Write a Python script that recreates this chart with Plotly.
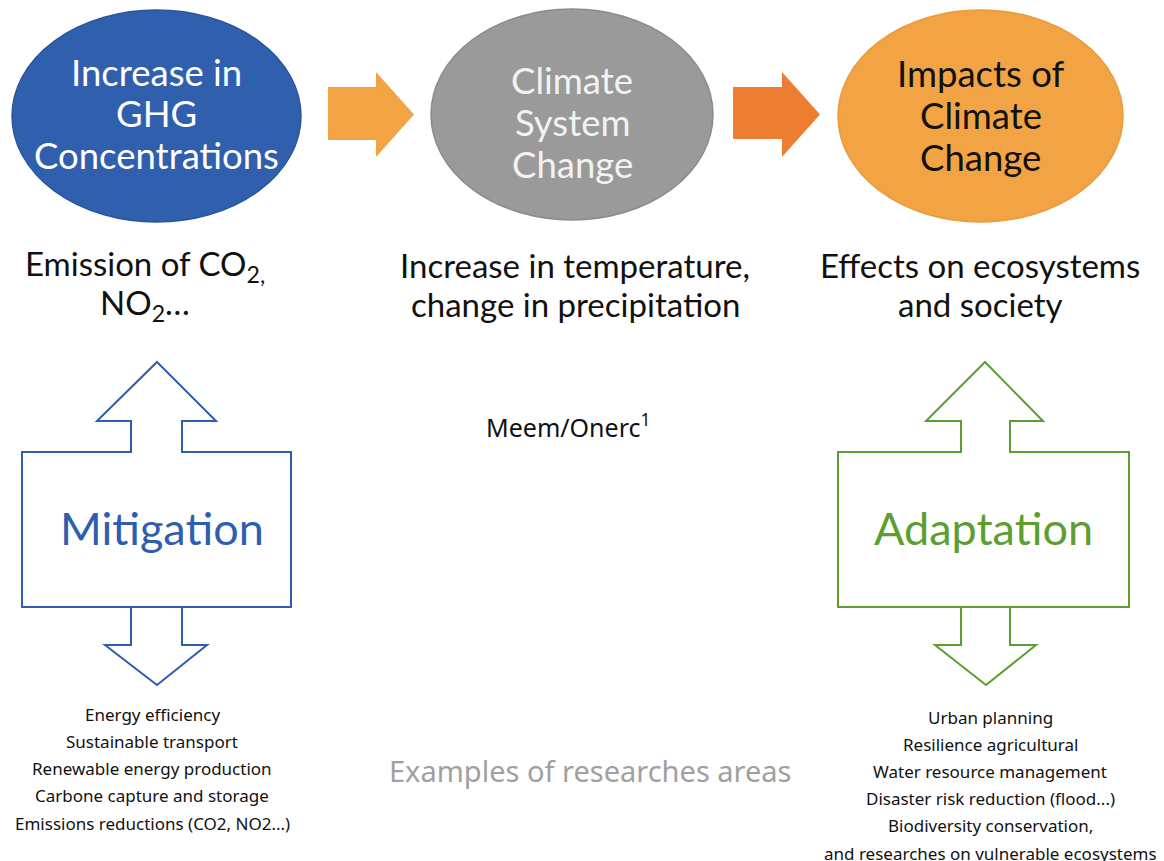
import plotly.graph_objects as go

W, H = 1164, 861
PAGE_OFF = 8  # browser body margin

# ---- text content ----
stage_titles = [
    ["Increase in", "GHG", "Concentrations"],
    ["Climate", "System", "Change"],
    ["Impacts of", "Climate", "Change"],
]
stage_fill = ["#3060AD", "#9A9A9A", "#F2A444"]
stage_line = ["#2A56A0", "#8C8C8C", "#E89A3C"]
stage_text_color = ["#FFFFFF", "#F2F2F2", "#111111"]

stage_sub = [
    ["Emission of CO<sub>2,</sub>", "NO<sub>2</sub>\u2026"],
    ["Increase in temperature,", "change in precipitation"],
    ["Effects on ecosystems", "and society"],
]

flow_arrow_colors = ["#F2A444", "#ED7D31"]

response_labels = ["Mitigation", "Adaptation"]
response_colors = ["#2F5DB0", "#5C9E2F"]

mitigation_areas = [
    "Energy efficiency",
    "Sustainable transport",
    "Renewable energy production",
    "Carbone capture and storage",
    "Emissions reductions (CO2, NO2...)",
]
adaptation_areas = [
    "Urban planning",
    "Resilience agricultural",
    "Water resource management",
    "Disaster risk reduction (flood...)",
    "Biodiversity conservation,",
    "and researches on vulnerable ecosystems",
]
source_text = "Meem/Onerc<sup>1</sup>"
caption_text = "Examples of researches areas"

# ---- layout geometry (pixel space) ----
ellipses = [(12, 10, 301, 222), (431, 9, 713, 220), (838, 10, 1123, 222)]
title_line_y = [[72, 113, 155], [80, 122, 164], [73, 115, 157]]
sub_x = [145, 575, 980]
sub_y = [265, 304]

flow_arrows = [  # x0, xhead, xtip, body_top, body_bot, head_top, head_bot
    (328, 376, 414, 87, 140, 72, 157),
    (733, 782, 820, 87, 139, 72, 157),
]

blocks = [
    dict(cx=157, bl=22, br=291, sl=131, sr=182, hl=97, hr=216, dl=105, dr=207, dcx=157, tx=162),
    dict(cx=985, bl=838, br=1129, sl=961, sr=1010, hl=926, hr=1043, dl=935, dr=1036, dcx=986, tx=983),
]
y_tip, y_head, y_boxtop, y_boxbot, y_dshaft, y_dtip = 362, 421, 452, 607, 645, 685

fig = go.Figure()
shapes = []
annotations = []

for i, (x0, y0, x1, y1) in enumerate(ellipses):
    shapes.append(dict(type="circle", xref="x", yref="y", x0=x0, x1=x1, y0=y0, y1=y1,
                       fillcolor=stage_fill[i], line=dict(color=stage_line[i], width=1.5), layer="below"))
    cx = (x0 + x1) / 2
    for j, line in enumerate(stage_titles[i]):
        annotations.append(dict(x=cx, y=title_line_y[i][j], xref="x", yref="y", text=line,
                                showarrow=False, xanchor="center", yanchor="middle",
                                font=dict(family="Lato", size=36.5, color=stage_text_color[i])))
    for j, line in enumerate(stage_sub[i]):
        annotations.append(dict(x=sub_x[i], y=sub_y[j], xref="x", yref="y", text=line,
                                showarrow=False, xanchor="center", yanchor="middle",
                                font=dict(family="Lato", size=33, color="#111111")))

for k, (xa, xh, xt, bt, bb, ht, hb) in enumerate(flow_arrows):
    ym = (ht + hb) / 2
    path = f"M {xa} {bt} L {xh} {bt} L {xh} {ht} L {xt} {ym} L {xh} {hb} L {xh} {bb} L {xa} {bb} Z"
    shapes.append(dict(type="path", xref="x", yref="y", path=path,
                       fillcolor=flow_arrow_colors[k], line=dict(width=0)))

for k, b in enumerate(blocks):
    c = response_colors[k]
    p1 = (f"M {b['cx']} {y_tip} L {b['hr']} {y_head} L {b['sr']} {y_head} L {b['sr']} {y_boxtop} "
          f"L {b['br']} {y_boxtop} L {b['br']} {y_boxbot} L {b['bl']} {y_boxbot} L {b['bl']} {y_boxtop} "
          f"L {b['sl']} {y_boxtop} L {b['sl']} {y_head} L {b['hl']} {y_head} Z")
    shapes.append(dict(type="path", xref="x", yref="y", path=p1, line=dict(color=c, width=2)))
    p2 = (f"M {b['sl']} {y_boxbot} L {b['sr']} {y_boxbot} L {b['sr']} {y_dshaft} L {b['dr']} {y_dshaft} "
          f"L {b['dcx']} {y_dtip} L {b['dl']} {y_dshaft} L {b['sl']} {y_dshaft} Z")
    shapes.append(dict(type="path", xref="x", yref="y", path=p2, line=dict(color=c, width=2)))
    annotations.append(dict(x=b['tx'], y=528, xref="x", yref="y", text=response_labels[k],
                            showarrow=False, xanchor="center", yanchor="middle",
                            font=dict(family="Lato", size=45, color=c)))

for j, t in enumerate(mitigation_areas):
    annotations.append(dict(x=152, y=714 + j * 27.3, xref="x", yref="y", text=t, showarrow=False,
                            xanchor="center", yanchor="middle",
                            font=dict(family="Noto Sans", size=17, color="#111111")))
for j, t in enumerate(adaptation_areas):
    annotations.append(dict(x=990, y=717 + j * 27.2, xref="x", yref="y", text=t, showarrow=False,
                            xanchor="center", yanchor="middle",
                            font=dict(family="Noto Sans", size=17, color="#111111")))

annotations.append(dict(x=568, y=425, xref="x", yref="y", text=source_text, showarrow=False,
                        xanchor="center", yanchor="middle",
                        font=dict(family="Noto Sans", size=25, color="#111111")))
annotations.append(dict(x=590, y=770, xref="x", yref="y", text=caption_text, showarrow=False,
                        xanchor="center", yanchor="middle",
                        font=dict(family="Noto Sans", size=29, color="#A0A0A0")))

fig.update_layout(
    width=W - PAGE_OFF, height=H - PAGE_OFF, autosize=False,
    margin=dict(l=0, r=0, t=0, b=0),
    paper_bgcolor="white", plot_bgcolor="white",
    shapes=shapes, annotations=annotations, showlegend=False,
    xaxis=dict(range=[PAGE_OFF, W], visible=False, fixedrange=True),
    yaxis=dict(range=[H, PAGE_OFF], visible=False, fixedrange=True),
)
fig.write_html("out.html", config={"displayModeBar": False})
